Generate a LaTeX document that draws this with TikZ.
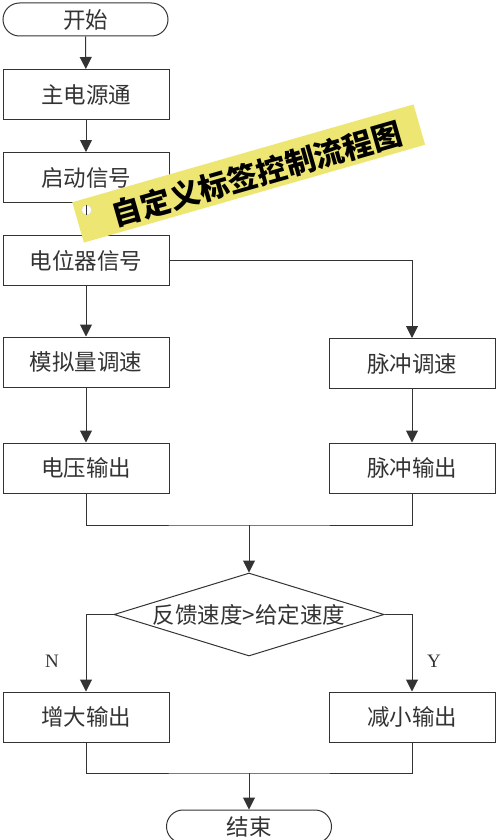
\documentclass[tikz,border=0pt]{standalone}
\usepackage{fontspec}
\setmainfont{Liberation Serif}
\newfontfamily\cjk{Noto Sans CJK SC}
\usetikzlibrary{arrows.meta,shapes.geometric}
\definecolor{tagyellow}{HTML}{EEE672}
\begin{document}
\begin{tikzpicture}[x=1pt,y=-1pt,>={Triangle[length=12pt,width=12pt]},
    line/.style={draw=black!80,line width=1pt},
    box/.style={line,rectangle,minimum width=166pt,minimum height=50pt,inner sep=0pt,text=black!80,font=\cjk\fontsize{22.5}{26}\selectfont},
    term/.style={box,rounded corners=16.5pt,minimum width=165pt,minimum height=33pt},
    test/.style={box,diamond,aspect=3.2,minimum width=270pt,minimum height=83pt},
    yn/.style={text=black!80,font=\fontsize{19}{22}\selectfont},
    tag/.style={fill=tagyellow,rotate=16,minimum width=355pt,minimum height=42pt,inner sep=0pt},
    hole/.style={circle,fill=white,draw=black!15,minimum size=10pt,inner sep=0pt},
    tagtext/.style={rotate=16,inner sep=0pt,font=\cjk\bfseries\fontsize{30}{34}\selectfont}]
                % \useasboundingbox matches the 500x840 reference
                \useasboundingbox (0,0) rectangle (500,840);
                \node[term] (start) at (85.5,19.5) {开始};
                \node[box] (power) at (86,94.5) {主电源通};
                \node[box] (startsig) at (86,177.5) {启动信号};
                \node[box] (pot) at (86,260.5) {电位器信号};
                \node[box] (analog) at (86,362) {模拟量调速};
                \node[box] (pulse) at (412,363.5) {脉冲调速};
                \node[box] (volt) at (86,468) {电压输出};
                \node[box] (pulseout) at (412,468) {脉冲输出};
                \coordinate (join) at (249,525);
                \node[test] (test) at (249,614.5) {反馈速度>给定速度};
                \node[box] (inc) at (86,717) {增大输出};
                \node[box] (dec) at (412,717) {减小输出};
                \coordinate (join2) at (249,773);
                \node[term] (end) at (249,826.5) {结束};
                \node[yn] (no) at (52,661) {N};
                \node[yn] (yes) at (434,661) {Y};
                \draw[line,->] (start) -- (power);
                \draw[line,->] (power) -- (startsig);
                \draw[line,->] (startsig) -- (pot);
                \draw[line,->] (pot) -- (analog);
                \draw[line,->] (pot.east) -| (pulse);
                \draw[line,->] (analog) -- (volt);
                \draw[line,->] (pulse) -- (pulseout);
                \draw[line] (volt) |- (join) -| (pulseout);
                \draw[line,->] (join) -- (test);
                \draw[line,->] (test.west) -| (inc);
                \draw[line,->] (test.east) -| (dec);
                \draw[line] (inc) |- (join2) -| (dec);
                \draw[line,->] (join2) -- (end);
                \node[tag] (tag) at (248.7,173.5) {};
                \node[hole] (hole) at (86.7,210) {};
                \begin{scope}
                \clip (hole.center) circle (5pt);
                \draw[line] (startsig) -- (pot);
                \end{scope}
                \node[tagtext] (tagtext) at (257,174) {自定义标签控制流程图};
            \end{tikzpicture}
\end{document}
